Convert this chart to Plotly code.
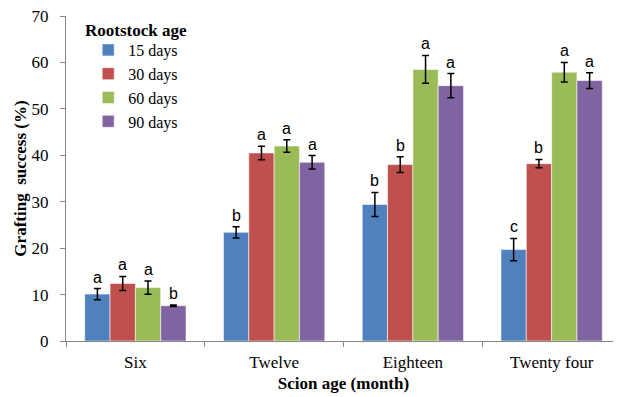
import plotly.graph_objects as go

categories = ["Six", "Twelve", "Eighteen", "Twenty four"]
series_names = ["15 days", "30 days", "60 days", "90 days"]
colors = ["#4F81BD", "#C0504D", "#9BBB59", "#8064A2"]

v15 = [10.1, 23.4, 29.4, 19.7]
v30 = [12.4, 40.5, 38.0, 38.2]
v60 = [11.5, 42.0, 58.5, 57.9]
v90 = [7.6, 38.5, 55.0, 56.1]

e15 = [1.2, 1.2, 2.6, 2.4]
e30 = [1.5, 1.45, 1.7, 0.9]
e60 = [1.45, 1.35, 3.0, 2.1]
e90 = [0.15, 1.45, 2.6, 1.7]

l15 = ["a", "b", "b", "c"]
l30 = ["a", "a", "b", "b"]
l60 = ["a", "a", "a", "a"]
l90 = ["b", "a", "a", "a"]

values = [v15, v30, v60, v90]
errors = [e15, e30, e60, e90]
letters = [l15, l30, l60, l90]

serif = "Liberation Serif"
bargap = 0.27

fig = go.Figure()
for name, col, v, e in zip(series_names, colors, values, errors):
    fig.add_trace(go.Bar(
        x=categories, y=v, name=name,
        marker=dict(color=col, line=dict(color="rgba(255,255,255,0.55)", width=1)),
        error_y=dict(type="data", array=e, visible=True, color="black", thickness=1.5, width=3.5),
    ))

n = len(series_names)
bw = (1 - bargap) / n
annotations = []
for j in range(n):
    for i in range(len(categories)):
        xpos = i - (1 - bargap) / 2 + (j + 0.5) * bw
        annotations.append(dict(
            x=xpos, y=values[j][i] + errors[j][i], xref="x", yref="y",
            text=letters[j][i], showarrow=False, yanchor="bottom", yshift=1,
            font=dict(family="Liberation Sans", size=16, color="black"),
        ))

annotations.append(dict(
    x=(83 - 66) / 555, y=1 - (30 - 16) / 325, xref="paper", yref="paper",
    xanchor="left", yanchor="middle", showarrow=False,
    text="<b>Rootstock age</b>", font=dict(family=serif, size=17, color="black"),
))

# page body has an 8px margin, so the figure is sized/placed to compensate
fig.update_layout(
    width=613, height=389,
    margin=dict(l=58, r=0, t=8, b=56),
    plot_bgcolor="white", paper_bgcolor="white",
    barmode="group", bargap=bargap, bargroupgap=0,
    showlegend=True,
    legend=dict(
        x=0.04, y=1 - (33 - 16) / 325, xanchor="left", yanchor="top",
        font=dict(family=serif, size=16, color="black"),
        bgcolor="rgba(0,0,0,0)", tracegroupgap=0,
    ),
    annotations=annotations,
    xaxis=dict(
        type="category", showline=True, linecolor="#868686", linewidth=1,
        ticks="outside", tickson="boundaries", ticklen=5, tickcolor="#868686",
        tickfont=dict(family=serif, size=17, color="black"), ticklabelstandoff=6,
        ticklabeloverflow="allow",
        title=dict(text="<b>Scion age (month)</b>", font=dict(family=serif, size=17, color="black"), standoff=5),
        showgrid=False, automargin=False,
    ),
    yaxis=dict(
        range=[0, 70], dtick=10, showline=True, linecolor="#868686", linewidth=1,
        ticks="outside", ticklen=5, tickcolor="#868686",
        tickfont=dict(family=serif, size=17, color="black"), ticklabelstandoff=8,
        ticklabeloverflow="allow",
        title=dict(text="<b>Grafting&nbsp; success (%)</b>", font=dict(family=serif, size=17, color="black"), standoff=0),
        showgrid=False, zeroline=False, automargin=False,
    ),
)

fig.write_html("out.html")
